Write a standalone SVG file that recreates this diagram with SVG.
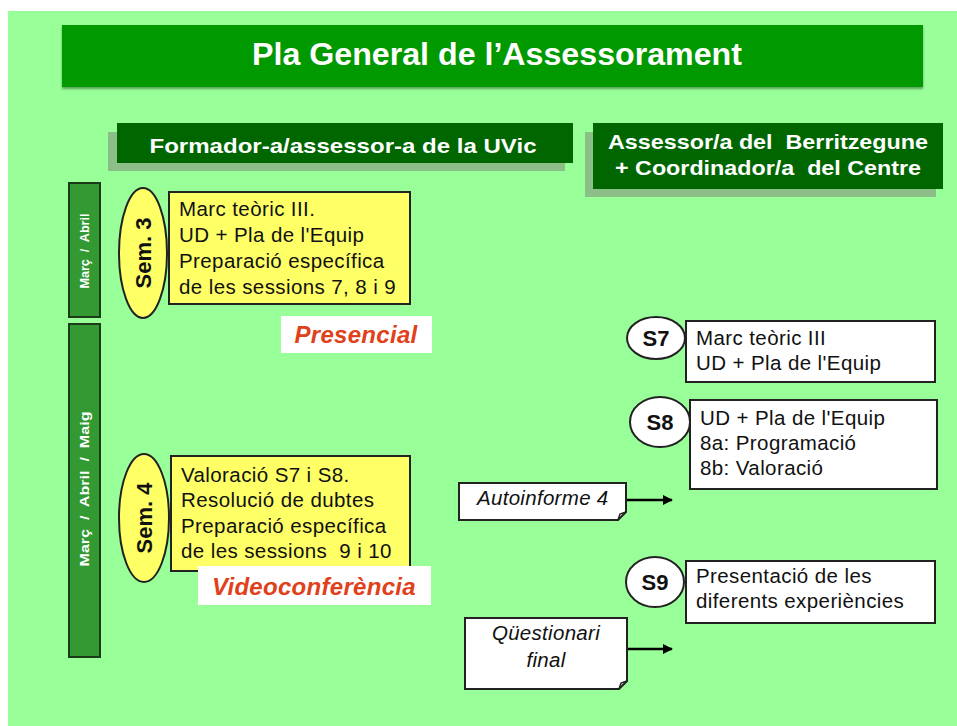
<svg xmlns="http://www.w3.org/2000/svg" width="957" height="726" viewBox="0 0 957 726">
<defs>
<style>
.hdr{fill:#006600;}
.shd{fill:#8cbf88;}
.ht{font-family:"Liberation Sans",Arial,sans-serif;font-weight:bold;fill:#ffffff;}
.bar{fill:#339933;stroke:#1a3a1a;stroke-width:2;}
.bt{font-family:"Liberation Sans",Arial,sans-serif;font-weight:bold;fill:#ffffff;font-size:12px;}
.yel{fill:#ffff66;stroke:#222222;stroke-width:2;}
.wb{fill:#ffffff;stroke:#222222;stroke-width:2;}
.tx{font-family:"Liberation Sans",Arial,sans-serif;font-size:20.5px;letter-spacing:0.4px;fill:#111111;}
.sem{font-family:"Liberation Sans",Arial,sans-serif;font-size:22px;font-weight:bold;fill:#111111;}
.red{font-family:"Liberation Sans",Arial,sans-serif;font-size:24px;letter-spacing:0.3px;font-weight:bold;font-style:italic;fill:#e0401a;}
.it{font-family:"Liberation Sans",Arial,sans-serif;font-size:20.5px;letter-spacing:0.3px;font-style:italic;fill:#111111;}
.conn{stroke:#000000;stroke-width:2.5;fill:none;}
</style>
<marker id="arr" viewBox="0 0 10 10" refX="9" refY="5" markerWidth="4" markerHeight="4" orient="auto" markerUnits="strokeWidth">
<path d="M0,0 L10,5 L0,10 z" fill="#000000"/>
</marker>
<filter id="ds" x="-5%" y="-20%" width="110%" height="150%">
<feDropShadow dx="0" dy="2" stdDeviation="1" flood-color="#336633" flood-opacity="0.6"/>
</filter>
</defs>
<rect x="0" y="0" width="957" height="726" fill="#ffffff"/>
<rect x="8" y="11" width="949" height="715" fill="#99ff99"/>

<g id="title">
<rect x="62" y="25" width="861" height="62" fill="#009900" filter="url(#ds)"/>
<text x="497" y="65" class="ht" font-size="31" text-anchor="middle" textLength="490" lengthAdjust="spacingAndGlyphs">Pla General de l’Assessorament</text>
</g>

<g id="hdr-uvic">
<rect x="108" y="132" width="457" height="39" class="shd"/>
<rect x="117" y="123" width="456" height="40" class="hdr"/>
<text x="343" y="153" class="ht" font-size="21" text-anchor="middle" textLength="387" lengthAdjust="spacingAndGlyphs">Formador-a/assessor-a de la UVic</text>
</g>

<g id="hdr-berri">
<rect x="585" y="132" width="351" height="65" class="shd"/>
<rect x="593" y="123" width="350" height="66" class="hdr"/>
<text x="768" y="149" class="ht" font-size="21" text-anchor="middle" textLength="320" lengthAdjust="spacingAndGlyphs" xml:space="preserve">Assessor/a del  Berritzegune</text>
<text x="768" y="175" class="ht" font-size="21" text-anchor="middle" textLength="306" lengthAdjust="spacingAndGlyphs" xml:space="preserve">+ Coordinador/a  del Centre</text>
</g>

<g id="bar1">
<rect x="69" y="183" width="31" height="134" class="bar"/>
<text transform="translate(89,251) rotate(-90)" class="bt" text-anchor="middle" textLength="75" lengthAdjust="spacingAndGlyphs" xml:space="preserve">Març  /  Abril</text>
</g>

<g id="bar2">
<rect x="69" y="324" width="31" height="333" class="bar"/>
<text transform="translate(89,489) rotate(-90)" class="bt" text-anchor="middle" textLength="155" lengthAdjust="spacingAndGlyphs" xml:space="preserve">Març  /  Abril  /  Maig</text>
</g>

<g id="sem3">
<rect x="169" y="192" width="241" height="112" class="yel"/>
<ellipse cx="143" cy="253" rx="24" ry="65" class="yel"/>
<text transform="translate(151,253) rotate(-90)" class="sem" text-anchor="middle">Sem. 3</text>
<text x="179" y="216" class="tx">Marc teòric III.</text>
<text x="179" y="242" class="tx">UD + Pla de l'Equip</text>
<text x="179" y="268" class="tx">Preparació específica</text>
<text x="179" y="294" class="tx">de les sessions 7, 8 i 9</text>
</g>

<g id="presencial">
<rect x="281" y="316" width="151" height="37" fill="#ffffff"/>
<text x="356" y="343" class="red" text-anchor="middle">Presencial</text>
</g>

<g id="sem4">
<rect x="171" y="456" width="239" height="115" class="yel"/>
<ellipse cx="144" cy="518" rx="25" ry="64" class="yel"/>
<text transform="translate(152,518) rotate(-90)" class="sem" text-anchor="middle">Sem. 4</text>
<text x="181" y="482" class="tx">Valoració S7 i S8.</text>
<text x="181" y="507" class="tx">Resolució de dubtes</text>
<text x="181" y="533" class="tx">Preparació específica</text>
<text x="181" y="558" class="tx" xml:space="preserve">de les sessions  9 i 10</text>
</g>

<g id="videoconf">
<rect x="198" y="566" width="233" height="39" fill="#ffffff"/>
<text x="314" y="595" class="red" text-anchor="middle">Videoconferència</text>
</g>

<g id="s7">
<rect x="686" y="321" width="249" height="61" class="wb"/>
<ellipse cx="656" cy="338" rx="29" ry="21" class="wb"/>
<text x="656" y="346" class="sem" text-anchor="middle">S7</text>
<text x="696" y="345" class="tx">Marc teòric III</text>
<text x="696" y="370" class="tx">UD + Pla de l'Equip</text>
</g>

<g id="s8">
<rect x="690" y="400" width="247" height="89" class="wb"/>
<ellipse cx="660" cy="422" rx="30" ry="25" class="wb"/>
<text x="660" y="430" class="sem" text-anchor="middle">S8</text>
<text x="700" y="425" class="tx">UD + Pla de l'Equip</text>
<text x="700" y="450" class="tx">8a: Programació</text>
<text x="700" y="475" class="tx">8b: Valoració</text>
</g>

<g id="s9">
<rect x="686" y="561" width="249" height="62" class="wb"/>
<ellipse cx="655" cy="582" rx="29" ry="25" class="wb"/>
<text x="655" y="590" class="sem" text-anchor="middle">S9</text>
<text x="696" y="583" class="tx">Presentació de les</text>
<text x="696" y="608" class="tx">diferents experiències</text>
</g>

<g id="autoinforme">
<path d="M459,483 H626 V512 L618,520 H459 Z" class="wb"/>
<path d="M618,520 L620,514 L626,512" fill="none" stroke="#222222" stroke-width="1.5"/>
<text x="477" y="505" class="it">Autoinforme 4</text>
</g>

<g id="questionari">
<path d="M465,618 H627 V681 L619,689 H465 Z" class="wb"/>
<path d="M619,689 L621,683 L627,681" fill="none" stroke="#222222" stroke-width="1.5"/>
<text x="546" y="640" class="it" text-anchor="middle">Qüestionari</text>
<text x="546" y="667" class="it" text-anchor="middle">final</text>
</g>

<g id="connectors">
<line x1="627" y1="500" x2="672" y2="500" class="conn" marker-end="url(#arr)"/>
<line x1="628" y1="649" x2="672" y2="649" class="conn" marker-end="url(#arr)"/>
</g>
</svg>
